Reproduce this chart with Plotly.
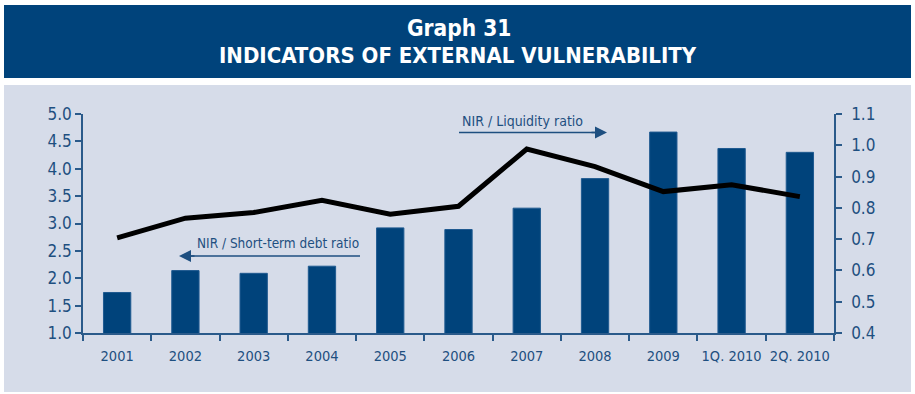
import plotly.graph_objects as go

# Categories and series
periods = ["2001", "2002", "2003", "2004", "2005", "2006", "2007", "2008",
           "2009", "1Q. 2010", "2Q. 2010"]
nir_short_term_debt = [1.74, 2.14, 2.09, 2.22, 2.92, 2.89, 3.28, 3.82, 4.67, 4.37, 4.30]
nir_liquidity = [0.704, 0.767, 0.785, 0.824, 0.780, 0.805, 0.988, 0.932, 0.852, 0.874, 0.836]

W, H = 915, 394
L, R, T, B = 83, 81, 114, 61
pw, ph = W - L - R, H - T - B

def px(x):
    return (x - L) / pw

def py(y):
    return (H - B - y) / ph

NAVY = "#00437B"
AXIS = "#2A5A8A"
TEXT = "#1E4F80"
BG = "#D6DCE9"
FONT = "DejaVu Sans Condensed, DejaVu Sans, sans-serif"

fig = go.Figure()
fig.add_trace(go.Bar(x=periods, y=nir_short_term_debt, marker_color=NAVY,
                     marker_line_color="#1F5A90", marker_line_width=1,
                     name="NIR / Short-term debt ratio", yaxis="y"))
fig.add_trace(go.Scatter(x=periods, y=nir_liquidity, mode="lines",
                         line=dict(color="#000000", width=5),
                         name="NIR / Liquidity ratio", yaxis="y2"))

shapes = [
    # header band
    dict(type="rect", xref="paper", yref="paper", x0=px(4), x1=px(911), y0=py(5), y1=py(78),
         fillcolor=NAVY, line_width=0, layer="below"),
    # chart panel
    dict(type="rect", xref="paper", yref="paper", x0=px(4), x1=px(911), y0=py(85), y1=py(392),
         fillcolor=BG, line_width=0, layer="below"),
    # arrow shafts
    dict(type="line", xref="paper", yref="paper", x0=px(459), x1=px(596), y0=py(132.5), y1=py(132.5),
         line=dict(color=TEXT, width=1.5)),
    dict(type="line", xref="paper", yref="paper", x0=px(190), x1=px(360), y0=py(256), y1=py(256),
         line=dict(color=TEXT, width=1.5)),
]

annotations = [
    dict(text="<b>Graph 31</b>", x=px(459), y=py(28), xref="paper", yref="paper",
         xanchor="center", yanchor="middle", showarrow=False,
         font=dict(family=FONT, size=22.5, color="white")),
    dict(text="<b>INDICATORS OF EXTERNAL VULNERABILITY</b>", x=px(458), y=py(56),
         xref="paper", yref="paper", xanchor="center", yanchor="middle", showarrow=False,
         font=dict(family=FONT, size=22, color="white")),
    dict(text="NIR / Liquidity ratio", x=px(460), y=py(121), xref="paper", yref="paper",
         xanchor="left", yanchor="middle", showarrow=False,
         font=dict(family=FONT, size=14, color=TEXT)),
    dict(text="NIR / Short-term debt ratio", x=px(195), y=py(243), xref="paper", yref="paper",
         xanchor="left", yanchor="middle", showarrow=False,
         font=dict(family=FONT, size=13.5, color=TEXT)),
    # arrow heads
    dict(x=px(607), y=py(132.5), ax=-17, ay=0, xref="paper", yref="paper",
         text="", showarrow=True, arrowhead=2,
         arrowsize=1.6, arrowwidth=1.5, arrowcolor=TEXT),
    dict(x=px(179), y=py(256), ax=17, ay=0, xref="paper", yref="paper",
         text="", showarrow=True, arrowhead=2,
         arrowsize=1.6, arrowwidth=1.5, arrowcolor=TEXT),
]

fig.update_layout(
    width=W, height=H,
    margin=dict(l=L, r=R, t=T, b=B, autoexpand=False),
    paper_bgcolor="white", plot_bgcolor="rgba(0,0,0,0)",
    showlegend=False, bargap=0.6,
    shapes=shapes, annotations=annotations,
    font=dict(family=FONT, color=TEXT),
    xaxis=dict(type="category", range=[-0.5, 10.5], showline=True, linecolor=AXIS,
               linewidth=1.5, ticks="outside", tickson="boundaries", ticklen=6,
               tickcolor=AXIS, tickwidth=1.5, showgrid=False, ticklabelstandoff=9,
               tickangle=0, automargin=False,
               tickfont=dict(family=FONT, size=14.5, color=TEXT)),
    yaxis=dict(range=[1.0, 5.0], dtick=0.5, tick0=1.0, tickformat=".1f", showline=True,
               linecolor=AXIS, linewidth=1.5, ticks="outside", ticklen=6, tickcolor=AXIS,
               tickwidth=1.5, showgrid=False, zeroline=False, automargin=False,
               tickfont=dict(family=FONT, size=17, color=TEXT)),
    yaxis2=dict(range=[0.4, 1.1], dtick=0.1, tick0=0.4, tickformat=".1f", overlaying="y",
                side="right", showline=True, linecolor=AXIS, linewidth=1.5, ticks="outside",
                ticklen=6, tickcolor=AXIS, tickwidth=1.5, showgrid=False, zeroline=False,
                ticklabelstandoff=6, automargin=False,
                tickfont=dict(family=FONT, size=17, color=TEXT)),
)

fig.write_html("out.html")
